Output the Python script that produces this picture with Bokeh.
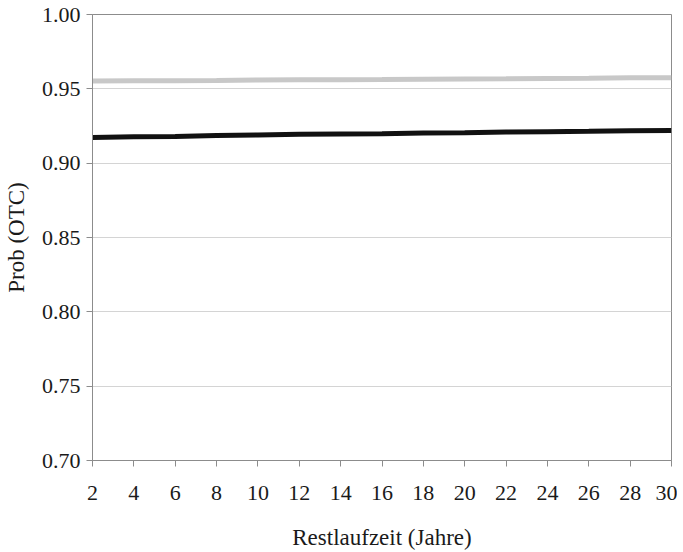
from bokeh.plotting import figure
from bokeh.models import Range1d, FixedTicker, NumeralTickFormatter
from bokeh.embed import file_html
from bokeh.resources import INLINE

years = [2, 4, 6, 8, 10, 12, 14, 16, 18, 20, 22, 24, 26, 28, 30]
prob_gray = [0.9553, 0.9554, 0.9555, 0.9556, 0.9560, 0.9561, 0.9561, 0.9562, 0.9565, 0.9566, 0.9567, 0.9569, 0.9571, 0.9574, 0.9575]
prob_black = [0.9173, 0.9178, 0.9180, 0.9186, 0.9189, 0.9194, 0.9196, 0.9198, 0.9203, 0.9205, 0.9210, 0.9212, 0.9214, 0.9218, 0.9220]
y_ticks = [0.70, 0.75, 0.80, 0.85, 0.90, 0.95, 1.00]

FONT = "Liberation Serif"

p = figure(output_backend="svg", toolbar_location=None,
           x_range=Range1d(2, 30), y_range=Range1d(0.70, 1.00),
           frame_width=579, frame_height=446,
           min_border_left=84, min_border_right=6, min_border_top=14, min_border_bottom=84)

p.line(years, prob_gray, line_color="#c8c8c8", line_width=5)
p.line(years, prob_black, line_color="#111111", line_width=5)

p.xaxis.ticker = FixedTicker(ticks=years)
p.yaxis.ticker = FixedTicker(ticks=y_ticks)
p.yaxis.formatter = NumeralTickFormatter(format="0.00")

for ax in (p.xaxis[0], p.yaxis[0]):
    ax.axis_line_color = "#8c8c8c"
    ax.major_tick_line_color = "#8c8c8c"
    ax.major_tick_out = 6
    ax.major_tick_in = 0
    ax.minor_tick_line_color = None
    ax.major_label_text_font = FONT
    ax.major_label_text_font_size = "22px"
    ax.major_label_text_color = "#1a1a1a"
    ax.axis_label_text_font = FONT
    ax.axis_label_text_font_size = "23px"
    ax.axis_label_text_font_style = "normal"
    ax.axis_label_text_color = "#1a1a1a"

p.xaxis.axis_label = "Restlaufzeit (Jahre)"
p.yaxis.axis_label = "Prob (OTC)"
p.xaxis.major_label_standoff = 19
p.xaxis.axis_label_standoff = 22
p.yaxis.major_label_standoff = 6
p.yaxis.axis_label_standoff = 10

p.xgrid.grid_line_color = None
p.ygrid.grid_line_color = "#d4d4d4"
p.ygrid.grid_line_width = 1
p.outline_line_color = "#8c8c8c"
p.outline_line_width = 1

open("out.html", "w").write(file_html(p, INLINE))
